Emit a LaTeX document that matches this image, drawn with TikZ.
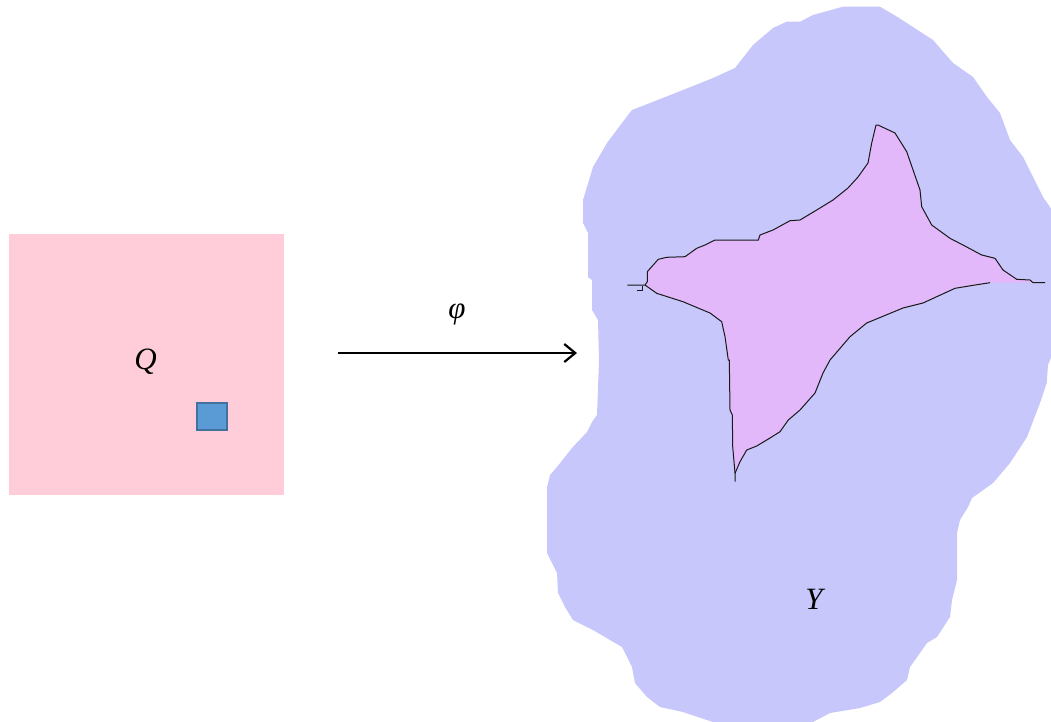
\documentclass[tikz,border=0pt]{standalone}
\usepackage{fontspec}
\newfontfamily\lserif{Liberation Serif}
\usetikzlibrary{arrows.meta}
\definecolor{blobcol}{RGB}{199,199,252}
\definecolor{starcol}{RGB}{227,184,251}
\definecolor{pinkcol}{RGB}{255,204,217}
\definecolor{sqfill}{RGB}{91,155,213}
\definecolor{sqdraw}{RGB}{65,113,156}
\tikzset{
  lbl/.style={font=\lserif\itshape\fontsize{31}{31}\selectfont, inner sep=0pt},
  mapline/.style={line width=2.2pt, -{Straight Barb[length=11pt,width=18pt,line width=2.2pt]}},
  outline/.style={draw=black!90, line width=1pt, line join=miter}
}
\begin{document}
\begin{tikzpicture}[x=1pt,y=-1pt]
\useasboundingbox (0,0) rectangle (1051,721);
% domain Q
\fill[pinkcol] (9,234.3) rectangle (284.3,495);
\node[lbl] (Q) at (145.5,362) {Q};
\node[draw=sqdraw, fill=sqfill, line width=2pt, minimum width=30pt, minimum height=27pt, inner sep=0pt] (cube) at (211.7,416.2) {};
% map arrow
\coordinate (from) at (338,353);
\coordinate (to) at (577,353);
\draw[mapline] (from) -- (to);
\node[lbl] (phi) at (457,314) {φ};
% blob Y
\fill[blobcol] (843,6.7) -- (880,6.7) -- (897,16.7) -- (933,40) -- (953,63) -- (973,77) -- (987,97) -- (1000,113) -- (1010,140) -- (1023,157) -- (1033,177) -- (1043,197) -- (1052,210) -- (1052,355) -- (1048,365) -- (1046.7,383) -- (1040,403) -- (1027,437) -- (1010,463) -- (993,483) -- (972,498) -- (968,507) -- (960,520) -- (957,533) -- (957,580) -- (952,600) -- (950,617) -- (937,637) -- (927,643) -- (910,667) -- (907,680) -- (892,693) -- (880,702) -- (860,708) -- (830,713) -- (813,722) -- (713,722) -- (683,712) -- (660,707) -- (647,697) -- (635,683) -- (632,667) -- (622,647) -- (610,640) -- (593,630) -- (573,620) -- (565,607) -- (558,593) -- (557,573) -- (552,563) -- (547,553) -- (547,487) -- (550,475) -- (557,467) -- (572,448) -- (587,432) -- (592,422) -- (597,415) -- (599,360) -- (598,320) -- (592,310) -- (592,280) -- (588,277) -- (588,233) -- (583,223) -- (583,200) -- (593,167) -- (607,143) -- (628,115) -- (632,110) -- (650,103) -- (683,90) -- (713,78) -- (735,68) -- (753,45) -- (773,28) -- (786.7,21.7) -- (800,21.7) -- (813,15) -- cycle;
% star (image of the cube)
\fill[starcol] (645,285) -- (647.3,281.7) -- (647.3,271.7) -- (651.7,266.7) -- (658.3,259.3) -- (666.7,257.3) -- (685,256.7) -- (696.7,248.3) -- (705,245) -- (715,240) -- (758.3,240) -- (760,235) -- (773,230) -- (790,220.7) -- (800,220) -- (816.7,210) -- (833,200) -- (848,188) -- (858,177) -- (868,163) -- (871.7,143) -- (876,125) -- (878,125) -- (895,133) -- (906.7,151.7) -- (920,190) -- (921.7,206.7) -- (931.7,225) -- (950,238.3) -- (963,245) -- (981.7,255) -- (995,258.3) -- (1003,270) -- (1016.7,279.3) -- (1030,280) -- (1033,282.7) -- (990,282.7) -- (975,285) -- (955,288.3) -- (923,303) -- (903,308) -- (866.7,323) -- (850,336.7) -- (830,360) -- (823,373) -- (815,393) -- (800,410) -- (788.3,420) -- (780,431.7) -- (770,438) -- (756.7,446) -- (746.7,450) -- (740,461.7) -- (735,473.3) -- (732.7,446.7) -- (732.3,415) -- (730,410) -- (729.3,360) -- (728.3,360) -- (725,336.7) -- (721.7,321.7) -- (710,313) -- (683,301.7) -- (656.7,293.3) -- cycle;
\draw[outline] (627.3,285) -- (645,285) -- (647.3,281.7) -- (647.3,271.7) -- (651.7,266.7) -- (658.3,259.3) -- (666.7,257.3) -- (685,256.7) -- (696.7,248.3) -- (705,245) -- (715,240) -- (758.3,240) -- (760,235) -- (773,230) -- (790,220.7) -- (800,220) -- (816.7,210) -- (833,200) -- (848,188) -- (858,177) -- (868,163) -- (871.7,143) -- (876,125) -- (878,125) -- (895,133) -- (906.7,151.7) -- (920,190) -- (921.7,206.7) -- (931.7,225) -- (950,238.3) -- (963,245) -- (981.7,255) -- (995,258.3) -- (1003,270) -- (1016.7,279.3) -- (1030,280) -- (1033,282.7) -- (1045,282.7);
\draw[outline] (990,282.7) -- (975,285) -- (955,288.3) -- (923,303) -- (903,308) -- (866.7,323) -- (850,336.7) -- (830,360) -- (823,373) -- (815,393) -- (800,410) -- (788.3,420) -- (780,431.7) -- (770,438) -- (756.7,446) -- (746.7,450) -- (740,461.7) -- (735,473.3);
\draw[outline] (735,481.7) -- (735,473.3) -- (732.7,446.7) -- (732.3,415) -- (730,410) -- (729.3,360) -- (728.3,360) -- (725,336.7) -- (721.7,321.7) -- (710,313) -- (683,301.7) -- (656.7,293.3) -- (645,285);
\draw[outline] (642,286) -- (642,290.7) -- (636.7,290.7);
\node[lbl] (Y) at (814,599) {Y};
\end{tikzpicture}
\end{document}
